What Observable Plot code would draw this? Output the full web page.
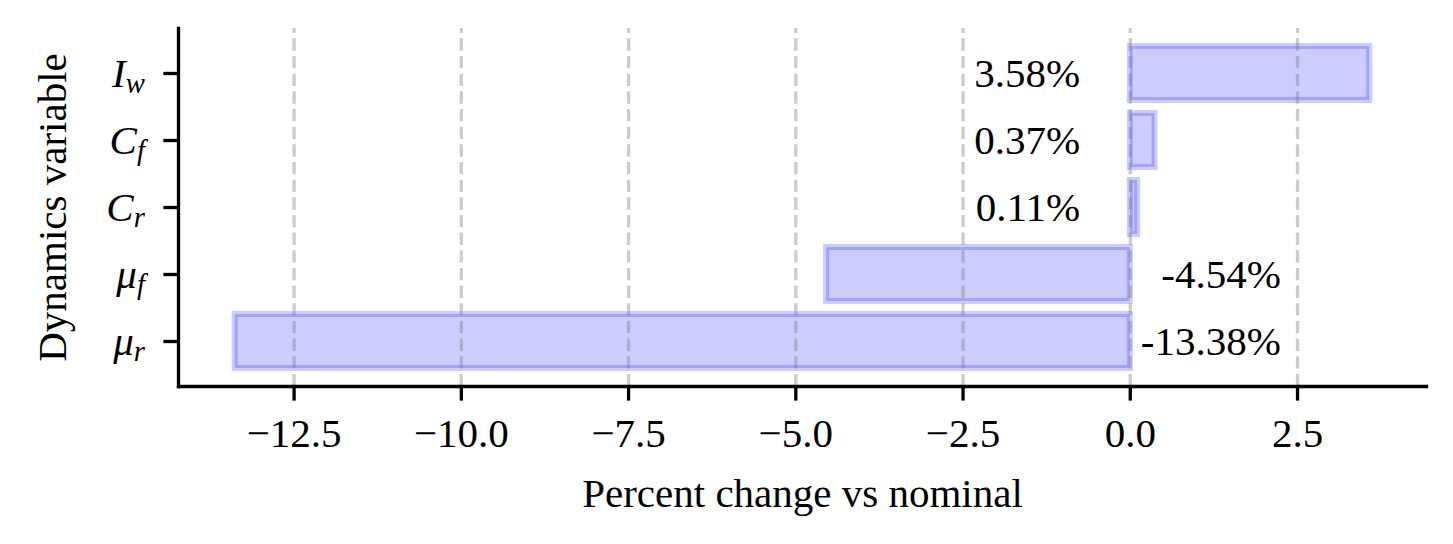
<!DOCTYPE html>
<html>
<head>
<meta charset="utf-8">
<script src="https://cdn.jsdelivr.net/npm/d3@7"></script>
<script src="https://cdn.jsdelivr.net/npm/@observablehq/plot@0.6"></script>
<style>
  html, body { margin: 0; padding: 0; background: white; }
  #chart { width: 1453px; height: 544px; }
</style>
</head>
<body>
<div id="chart"></div>
<script>
// ---- data ----
const names = ["I_w", "C_f", "C_r", "μ_f", "μ_r"];
const values = [3.58, 0.37, 0.11, -4.54, -13.38];
const valueLabels = ["3.58%", "0.37%", "0.11%", "-4.54%", "-13.38%"];
const xTicks = [-12.5, -10, -7.5, -5, -2.5, 0, 2.5];
const xDomain = [-14.228, 4.428];
const labelXPositive = -0.75;   // label anchor (end) for positive bars
const labelXNegative = 2.25;    // label anchor (end) for negative bars
const xLabel = "Percent change vs nominal";
const yLabel = "Dynamics variable";

const data = names.map((n, i) => ({
  name: n,
  value: values[i],
  label: valueLabels[i],
  lx: values[i] > 0 ? labelXPositive : labelXNegative
}));

const FONT = "'Liberation Serif', 'Times New Roman', serif";
const FS = 41;
const fmt = d => d.toFixed(1).replace("-", "\u2212");

const chart = Plot.plot({
  width: 1453,
  height: 544,
  marginLeft: 178,
  marginRight: 27,
  marginTop: 28,
  marginBottom: 158,
  style: { fontFamily: FONT, fontSize: FS + "px", background: "white", color: "black" },
  x: { domain: xDomain, label: null },
  y: { type: "band", domain: names, paddingInner: 0.2, paddingOuter: 0.24, label: null },
  marks: [
    Plot.barX(data, {
      x: "value", y: "name",
      fill: "blue", fillOpacity: 0.2,
      stroke: "blue", strokeOpacity: 0.2, strokeWidth: 6
    }),
    Plot.ruleX(xTicks, {
      stroke: "gray", strokeOpacity: 0.4, strokeWidth: 3.33,
      strokeDasharray: "12.33,5.33", strokeDashoffset: 7.3
    }),
    Plot.text(data, {
      x: "lx", y: "name", text: "label", textAnchor: "end",
      fontSize: FS, fill: "black"
    }),
    Plot.axisX(xTicks, {
      tickSize: 14.6, tickPadding: 17, strokeWidth: 3.33,
      tickFormat: fmt, fontSize: FS, label: null
    }),
    Plot.axisY({
      tickSize: 14.6, tickPadding: 19, strokeWidth: 3.33,
      fontSize: FS, label: null
    }),
    Plot.frame({ anchor: "bottom", strokeWidth: 3.33, stroke: "black" }),
    Plot.frame({ anchor: "left", strokeWidth: 3.33, stroke: "black" }),
    Plot.text([xLabel], { frameAnchor: "bottom", lineAnchor: "bottom", dy: 120, fontSize: FS, fill: "black" }),
    Plot.text([yLabel], { frameAnchor: "left", textAnchor: "middle", rotate: -90, dx: -126, fontSize: FS, fill: "black" })
  ]
});

// math-style italic tick labels with subscripts
chart.querySelectorAll('g[aria-label="y-axis tick label"] text').forEach(t => {
  const s = t.textContent;
  const parts = s.split("_");
  if (parts.length !== 2) return;
  while (t.firstChild) t.removeChild(t.firstChild);
  t.setAttribute("font-style", "italic");
  const a = document.createElementNS("http://www.w3.org/2000/svg", "tspan");
  a.textContent = parts[0];
  const b = document.createElementNS("http://www.w3.org/2000/svg", "tspan");
  b.textContent = parts[1];
  b.setAttribute("font-size", "0.7em");
  b.setAttribute("dy", "0.22em");
  t.appendChild(a);
  t.appendChild(b);
});

document.getElementById("chart").appendChild(chart);
</script>
</body>
</html>
